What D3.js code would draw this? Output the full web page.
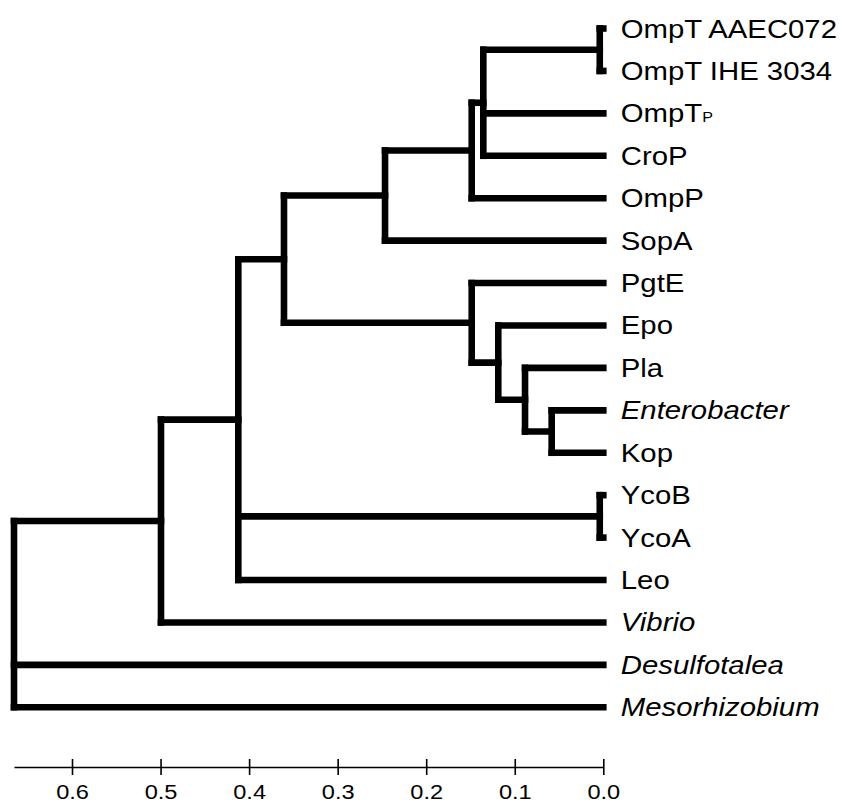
<!DOCTYPE html>
<html>
<head>
<meta charset="utf-8">
<script src="https://cdn.jsdelivr.net/npm/d3@7"></script>
<style>
  html, body { margin: 0; padding: 0; background: #fff; }
  svg { display: block; }
  text { font-family: "Liberation Sans", Arial, sans-serif; fill: #000; }
</style>
</head>
<body>
<svg id="chart" width="841" height="802"></svg>
<script>
// ---- Data ----
// Node ids (internal nodes and leaves, in display order within each parent)
const nodeIds = [
  "root", "n050", "n041", "n036", "n025", "n015a", "n0135", "nOmpT",
  "OmpT AAEC072", "OmpT IHE 3034", "OmpTP", "CroP", "OmpP", "SopA",
  "n015b", "PgtE", "n012", "Epo", "n009", "Pla", "n006", "Enterobacter", "Kop",
  "nYco", "YcoB", "YcoA", "Leo", "Vibrio", "Desulfotalea", "Mesorhizobium"
];
const nodeParents = [
  null, "root", "n050", "n041", "n036", "n025", "n015a", "n0135",
  "nOmpT", "nOmpT", "n0135", "n0135", "n015a", "n025",
  "n036", "n015b", "n015b", "n012", "n012", "n009", "n009", "n006", "n006",
  "n041", "nYco", "nYco", "n041", "n050", "root", "root"
];
// Distance (height above the tips, axis units)
const nodeHeights = [
  0.6655, 0.4995, 0.4122, 0.3606, 0.2465, 0.1486, 0.1355, 0.004,
  0, 0, 0, 0, 0, 0,
  0.1486, 0, 0.1186, 0, 0.0884, 0, 0.0583, 0, 0,
  0.004, 0, 0, 0, 0, 0, 0
];
const italicLeaves = ["Enterobacter", "Vibrio", "Desulfotalea", "Mesorhizobium"];
const tickValues = [0.6, 0.5, 0.4, 0.3, 0.2, 0.1, 0.0];

// ---- Build hierarchy ----
const table = nodeIds.map((id, i) => ({ id, parent: nodeParents[i], h: nodeHeights[i] }));
const root = d3.stratify().id(d => d.id).parentId(d => d.parent)(table);
const leaves = root.leaves();

const svg = d3.select("#chart");
const x = d3.scaleLinear().domain([0, 0.6]).range([603.3, 72]);
const y = d3.scalePoint().domain(leaves.map(d => d.data.id)).range([28.5, 707.3]);

// Positions
root.eachAfter(d => {
  d.px = x(d.data.h);
  if (!d.children) d.py = y(d.data.id);
  else d.py = (d.children[0].py + d.children[d.children.length - 1].py) / 2;
});

const SW = 6.6;
const g = svg.append("g")
  .attr("fill", "none")
  .attr("stroke", "#000")
  .attr("stroke-width", SW)
  .attr("stroke-linecap", "square");

// Vertical connectors
g.selectAll("path.v")
  .data(root.descendants().filter(d => d.children))
  .join("path")
  .attr("class", "v")
  .attr("d", d => `M${d.px},${d.children[0].py}V${d.children[d.children.length - 1].py}`);

// Horizontal branches
g.selectAll("path.h")
  .data(root.descendants().filter(d => d.parent))
  .join("path")
  .attr("class", "h")
  .attr("d", d => `M${d.parent.px},${d.py}H${d.px}`);

// Leaf labels
const SX = 1.15;
const lab = svg.append("g").selectAll("text")
  .data(leaves)
  .join("text")
  .attr("transform", d => `translate(${x(0) + 17.5},${d.py + 9}) scale(${SX},1)`)
  .style("font-size", "25.5px")
  .style("font-style", d => italicLeaves.includes(d.data.id) ? "italic" : "normal");

lab.each(function(d) {
  const t = d3.select(this);
  if (d.data.id === "OmpTP") {
    t.append("tspan").text("OmpT");
    t.append("tspan").style("font-size", "14px").text("P");
  } else {
    t.text(d.data.id);
  }
});

// Axis
const xa = x.copy().domain([0, root.data.h]).range([x(0), x(root.data.h)]);
const axis = d3.axisBottom(xa)
  .tickValues(tickValues)
  .tickFormat(d3.format(".1f"))
  .tickSizeOuter(0)
  .tickSizeInner(8)
  .tickPadding(0);

const ag = svg.append("g")
  .attr("transform", "translate(0,767)")
  .call(axis);
ag.attr("font-size", null).attr("font-family", null);
ag.select(".domain").attr("stroke", "#000").attr("stroke-width", 1.6);
ag.selectAll(".tick line").attr("y1", -8).attr("y2", 8).attr("stroke", "#000").attr("stroke-width", 1.6);
ag.selectAll(".tick text")
  .style("font-size", "20.5px")
  .style("font-family", "'Liberation Sans', Arial, sans-serif")
  .attr("fill", "#000")
  .attr("dy", null)
  .attr("y", null)
  .attr("transform", `translate(0,31.5) scale(${SX},1)`);
</script>
</body>
</html>
